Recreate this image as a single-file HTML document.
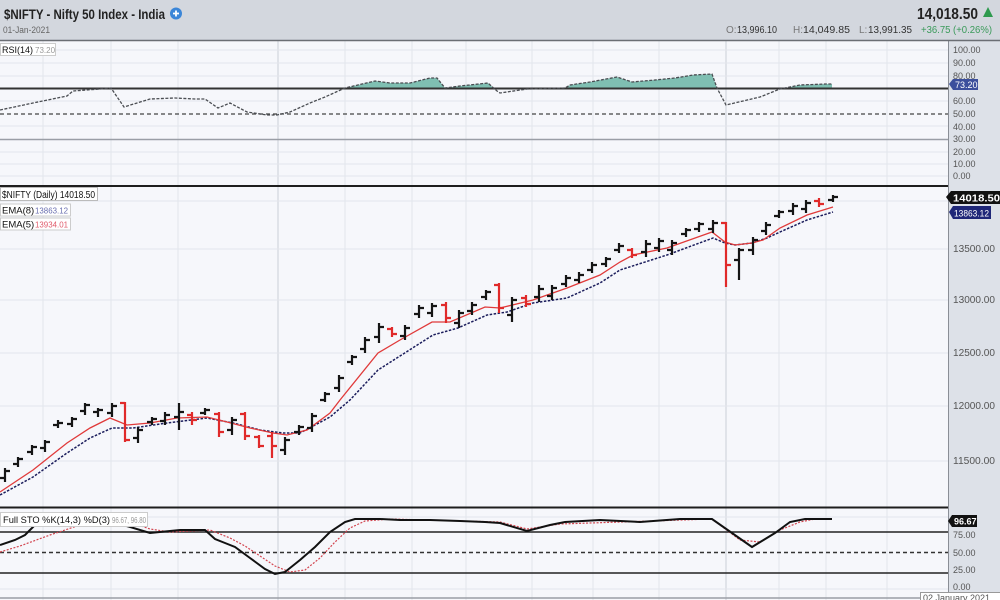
<!DOCTYPE html>
<html><head><meta charset="utf-8"><style>
html,body{margin:0;padding:0;background:#f6f7fb;}
svg{display:block;font-family:"Liberation Sans",sans-serif;}
</style></head><body>
<svg width="1000" height="600" viewBox="0 0 1000 600" xmlns="http://www.w3.org/2000/svg">
<!-- backgrounds -->
<rect x="0" y="0" width="1000" height="600" fill="#f6f7fb"/>
<rect x="948" y="41" width="52" height="559" fill="#dde1e8"/>
<line x1="948.5" y1="41" x2="948.5" y2="600" stroke="#8a8e96" stroke-width="1"/>

<!-- vertical grid -->
<g stroke="#e1e4eb" stroke-width="1">
<line x1="43" y1="41" x2="43" y2="600"/><line x1="111" y1="41" x2="111" y2="600"/>
<line x1="178" y1="41" x2="178" y2="600"/><line x1="345" y1="41" x2="345" y2="600"/>
<line x1="412" y1="41" x2="412" y2="600"/><line x1="466" y1="41" x2="466" y2="600"/>
<line x1="532" y1="41" x2="532" y2="600"/><line x1="593" y1="41" x2="593" y2="600"/>
<line x1="659" y1="41" x2="659" y2="600"/><line x1="779" y1="41" x2="779" y2="600"/>
<line x1="826" y1="41" x2="826" y2="600"/><line x1="887" y1="41" x2="887" y2="600"/>
</g>
<g stroke="#cbcfd7" stroke-width="1">
<line x1="278" y1="41" x2="278" y2="600"/><line x1="726" y1="41" x2="726" y2="600"/>
</g>

<!-- RSI panel grid -->
<g stroke="#e3e6ec" stroke-width="1">
<line x1="0" y1="50" x2="948" y2="50"/><line x1="0" y1="63" x2="948" y2="63"/>
<line x1="0" y1="76" x2="948" y2="76"/><line x1="0" y1="101" x2="948" y2="101"/>
<line x1="0" y1="126" x2="948" y2="126"/><line x1="0" y1="152" x2="948" y2="152"/>
<line x1="0" y1="164" x2="948" y2="164"/><line x1="0" y1="176" x2="948" y2="176"/>
</g>
<line x1="0" y1="139.5" x2="948" y2="139.5" stroke="#9a9ea6" stroke-width="1.5"/>
<line x1="0" y1="114" x2="948" y2="114" stroke="#444" stroke-width="1.3" stroke-dasharray="4,3"/>

<!-- RSI fill -->
<defs><clipPath id="above70"><rect x="0" y="41" width="948" height="47.5"/></clipPath></defs>
<path clip-path="url(#above70)" fill="#7fbfb2" d="M0 110 L33 103 L67 96 L73 91 L100 89 L111 88 L124 107 L150 99 L175 98 L195 99 L205 99 L218 108 L230 103 L247 112 L267 115 L277 115 L290 112 L310 103 L325 97 L345 88 L375 81 L390 83 L410 83 L430 78 L437 78 L445 88 L460 86 L488 83 L497 91 L500 93 L527 89 L565 88 L570 85 L590 82 L617 77 L632 82 L655 80 L675 78 L693 75 L712 74 L717 88 L726 105 L760 97 L780 89 L800 85 L826 84 L832 84 L832 88.5 L0 88.5 Z"/>
<line x1="0" y1="88.5" x2="948" y2="88.5" stroke="#333" stroke-width="2"/>
<polyline fill="none" stroke="#4a4d52" stroke-width="1.3" stroke-dasharray="3,1.5" points="0,110 33,103 67,96 73,91 100,89 111,88 124,107 150,99 175,98 195,99 205,99 218,108 230,103 247,112 267,115 277,115 290,112 310,103 325,97 345,88 375,81 390,83 410,83 430,78 437,78 445,88 460,86 488,83 497,91 500,93 527,89 565,88 570,85 590,82 617,77 632,82 655,80 675,78 693,75 712,74 717,88 726,105 760,97 780,89 800,85 826,84 832,84"/>

<!-- RSI axis -->
<g font-size="9" fill="#555">
<text x="953" y="53">100.00</text><text x="953" y="66">90.00</text><text x="953" y="79">80.00</text>
<text x="953" y="104">60.00</text><text x="953" y="117">50.00</text><text x="953" y="130">40.00</text>
<text x="953" y="142">30.00</text><text x="953" y="155">20.00</text><text x="953" y="167">10.00</text>
<text x="953" y="179">0.00</text>
</g>
<path d="M949 84 L953 79 H978 V90 H953 Z" fill="#3c4f9c"/>
<text x="955" y="88" font-size="9" fill="#fff">73.20</text>
<!-- RSI legend -->
<rect x="0.5" y="43.5" width="55" height="12" fill="#fff" stroke="#ccc"/>
<text x="2" y="53" font-size="9" fill="#111">RSI(14)</text>
<text x="35" y="53" font-size="8" fill="#999">73.20</text>

<!-- panel separators -->
<rect x="0" y="0" width="1000" height="40" fill="#d3d7de"/>
<line x1="0" y1="40.5" x2="1000" y2="40.5" stroke="#6b6e74" stroke-width="1.5"/>
<line x1="0" y1="186" x2="948" y2="186" stroke="#1e1e1e" stroke-width="2"/>
<line x1="0" y1="507.5" x2="948" y2="507.5" stroke="#1e1e1e" stroke-width="2"/>

<!-- Header -->
<text x="4" y="19" font-size="14" font-weight="bold" fill="#222" textLength="161" lengthAdjust="spacingAndGlyphs">$NIFTY - Nifty 50 Index - India</text>
<circle cx="176" cy="13.5" r="6" fill="#3b86d8"/>
<path d="M176 10.5 V16.5 M173 13.5 H179" stroke="#fff" stroke-width="1.8"/>
<text x="3" y="33" font-size="9" fill="#666" textLength="47" lengthAdjust="spacingAndGlyphs">01-Jan-2021</text>
<text x="917" y="19" font-size="16" font-weight="bold" fill="#222" textLength="61" lengthAdjust="spacingAndGlyphs">14,018.50</text>
<path d="M983 17 L988 7 L993 17 Z" fill="#2e9a4e"/>
<g font-size="10">
<text x="726" y="33" fill="#777">O:</text>
<text x="737" y="33" fill="#333" textLength="40" lengthAdjust="spacingAndGlyphs">13,996.10</text>
<text x="793" y="33" fill="#777">H:</text>
<text x="803" y="33" fill="#333" textLength="47" lengthAdjust="spacingAndGlyphs">14,049.85</text>
<text x="859" y="33" fill="#777">L:</text>
<text x="868" y="33" fill="#333" textLength="44" lengthAdjust="spacingAndGlyphs">13,991.35</text>
<text x="921" y="33" fill="#3a9a5a" textLength="71" lengthAdjust="spacingAndGlyphs">+36.75 (+0.26%)</text>
</g>

<!-- Main panel grid -->
<g stroke="#e3e6ec" stroke-width="1">
<line x1="0" y1="201" x2="948" y2="201"/><line x1="0" y1="249" x2="948" y2="249"/>
<line x1="0" y1="300" x2="948" y2="300"/><line x1="0" y1="353" x2="948" y2="353"/>
<line x1="0" y1="406" x2="948" y2="406"/><line x1="0" y1="461" x2="948" y2="461"/>
</g>
<!-- EMA lines -->
<polyline fill="none" stroke="#1b1d5c" stroke-width="1.5" stroke-dasharray="2.5,1.5" points="0,495 33,477 67,453 90,438 112,428 133,428 167,423 207,418 233,423 260,430 283,433 300,433 330,417 350,400 378,370 433,335 458,328 487,315 507,312 533,303 567,298 600,283 620,270 667,255 713,238 725,243 735,245 752,243 767,238 780,232 807,220 833,212"/>
<polyline fill="none" stroke="#e03a3a" stroke-width="1.3" points="0,492 33,470 67,443 90,428 110,418 127,425 150,423 177,418 207,417 227,422 250,428 273,433 287,435 307,430 330,413 340,400 378,353 400,340 432,322 450,322 485,307 500,308 533,300 567,288 600,275 620,262 633,255 667,248 712,232 725,242 735,245 752,243 763,240 780,228 807,215 833,207"/>

<!-- Bars -->
<path fill="none" stroke="#151515" stroke-width="2.2" d="M5 468V482M0 478H5M5 471H10M18 457V467M13 464H18M18 459H23M32 445V455M27 452H32M32 447H37M45 440V452M40 448H45M45 442H50M58 420V428M53 425H58M58 423H63M72 417V427M67 424H72M72 419H77M85 403V415M80 411H85M85 405H90M98 408V417M93 412H98M98 410H103M112 403V417M107 413H112M112 406H117M138 427V443M133 438H138M138 430H143M152 417V425M147 422H152M152 419H157M165 412V425M160 421H165M165 415H170M179 403V430M174 417H179M179 412H184M205 408V415M200 413H205M205 410H210M232 417V435M227 430H232M232 420H237M285 437V455M280 450H285M285 440H290M299 425V435M294 432H299M299 427H304M312 413V432M307 428H312M312 416H317M325 392V402M320 400H325M325 394H330M339 375V392M334 388H339M339 378H344M352 355V365M347 362H352M352 357H357M365 337V353M360 349H365M365 340H370M379 323V343M374 337H379M379 327H384M405 325V340M400 336H405M405 328H410M419 305V318M414 314H419M419 308H424M432 303V317M427 313H432M432 306H437M459 310V328M454 323H459M459 313H464M472 302V315M467 311H472M472 305H477M486 290V300M481 297H486M486 292H491M512 297V322M507 315H512M512 300H517M539 285V302M534 297H539M539 289H544M552 285V300M547 296H552M552 288H557M566 275V287M561 284H566M566 278H571M579 272V283M574 280H579M579 275H584M592 262V273M587 270H592M592 265H597M606 257V267M601 264H606M606 259H611M619 243V253M614 250H619M619 246H624M646 240V257M641 252H646M646 244H651M659 238V252M654 248H659M659 241H664M672 240V255M667 250H672M672 243H677M686 228V237M681 234H686M686 230H691M699 222V232M694 229H699M699 224H704M713 220V233M708 229H713M713 223H718M739 248V280M734 260H739M739 250H744M753 237V255M748 250H753M753 240H758M766 222V235M761 231H766M766 225H771M779 210V218M774 216H779M779 212H784M793 203V215M788 211H793M793 206H798M806 200V213M801 209H806M806 203H811M833 195V202M828 200H833M833 197H838"/>
<path fill="none" stroke="#e02a2a" stroke-width="2.2" d="M125 402V442M120 403H125M125 440H130M192 412V425M187 415H192M192 420H197M219 412V437M214 414H219M219 432H224M245 412V440M240 414H245M245 436H250M259 435V448M254 437H259M259 446H264M272 432V458M267 436H272M272 446H277M392 327V337M387 329H392M392 334H397M446 302V323M441 305H446M446 318H451M499 283V313M494 285H499M499 308H504M526 295V307M521 298H526M526 304H531M632 248V258M627 250H632M632 255H637M726 222V287M721 223H726M726 265H731M819 198V207M814 201H819M819 204H824"/>

<!-- Main legend -->
<rect x="0.5" y="187.5" width="97" height="13" fill="#fff" stroke="#bbb"/>
<text x="2" y="198" font-size="10" fill="#111" textLength="93" lengthAdjust="spacingAndGlyphs">$NIFTY (Daily) 14018.50</text>
<rect x="0.5" y="204" width="70" height="12" fill="#fff" stroke="#ccc"/>
<text x="2" y="213.5" font-size="9.5" fill="#111">EMA(8)</text>
<text x="35" y="213.5" font-size="8" fill="#6a6fb0" textLength="33" lengthAdjust="spacingAndGlyphs">13863.12</text>
<rect x="0.5" y="218" width="70" height="12" fill="#fff" stroke="#ccc"/>
<text x="2" y="227.5" font-size="9.5" fill="#111">EMA(5)</text>
<text x="35" y="227.5" font-size="8" fill="#e05a6a" textLength="33" lengthAdjust="spacingAndGlyphs">13934.01</text>

<!-- Main axis -->
<g font-size="10" fill="#555">
<text x="953" y="252" textLength="42" lengthAdjust="spacingAndGlyphs">13500.00</text>
<text x="953" y="303" textLength="42" lengthAdjust="spacingAndGlyphs">13000.00</text>
<text x="953" y="356" textLength="42" lengthAdjust="spacingAndGlyphs">12500.00</text>
<text x="953" y="409" textLength="42" lengthAdjust="spacingAndGlyphs">12000.00</text>
<text x="953" y="464" textLength="42" lengthAdjust="spacingAndGlyphs">11500.00</text>
</g>
<path d="M946 197 L951 191 H1000 V204 H951 Z" fill="#111"/>
<text x="953" y="201.5" font-size="10.5" font-weight="bold" fill="#fff" textLength="47" lengthAdjust="spacingAndGlyphs">14018.50</text>
<path d="M949 212 L953 206 H991 V219 H953 Z" fill="#1f2778"/>
<text x="954" y="216.5" font-size="9.5" fill="#fff" textLength="35" lengthAdjust="spacingAndGlyphs">13863.12</text>

<!-- Stoch panel -->
<g stroke="#e3e6ec" stroke-width="1">
<line x1="0" y1="517" x2="948" y2="517"/><line x1="0" y1="589" x2="948" y2="589"/>
</g>
<line x1="0" y1="532" x2="948" y2="532" stroke="#222" stroke-width="1.5"/>
<line x1="0" y1="552.5" x2="948" y2="552.5" stroke="#333" stroke-width="1.4" stroke-dasharray="4,3"/>
<line x1="0" y1="573" x2="948" y2="573" stroke="#222" stroke-width="1.5"/>
<line x1="0" y1="598" x2="948" y2="598" stroke="#9a9ea6" stroke-width="1.5"/>
<polyline fill="none" stroke="#d2454f" stroke-width="1.2" stroke-dasharray="2,1.5" points="0,552 20,546 50,535 80,525 110,520 130,522 150,529 170,532 190,531 210,530 230,538 245,546 260,556 275,566 290,572 305,570 320,558 335,542 350,528 365,521 390,519 500,522 527,529 560,524 712,519 740,540 760,542 780,530 800,522 815,519 832,519"/>
<polyline fill="none" stroke="#111" stroke-width="2" points="0,545 15,540 25,535 35,525 50,518 70,515 90,516 110,522 120,524 150,533 170,531 180,530 205,530 215,539 225,543 235,547 250,558 265,569 275,574 285,572 300,560 315,547 330,532 345,522 355,519 380,519 400,520 430,520 460,521 485,522 500,523 527,531 550,525 565,522 600,520 640,522 680,519 712,519 752,547 775,533 790,522 805,519 832,519"/>
<rect x="0.5" y="512.5" width="147" height="14" fill="#fff" stroke="#ccc"/>
<text x="3" y="523" font-size="9.5" fill="#111" textLength="107" lengthAdjust="spacingAndGlyphs">Full STO %K(14,3) %D(3)</text>
<text x="112" y="523" font-size="8.5" fill="#999" textLength="34" lengthAdjust="spacingAndGlyphs">96.67, 96.80</text>
<g font-size="9" fill="#555">
<text x="953" y="538">75.00</text><text x="953" y="556">50.00</text>
<text x="953" y="573">25.00</text><text x="953" y="590">0.00</text>
</g>
<path d="M948 521 L952 515 H977 V527 H952 Z" fill="#111"/>
<text x="954" y="524.5" font-size="9" font-weight="bold" fill="#fff">96.67</text>
<rect x="920.5" y="592.5" width="80" height="10" fill="#fff" stroke="#999"/>
<text x="923" y="601" font-size="9" fill="#555">02 January 2021</text>
</svg>
</body></html>
